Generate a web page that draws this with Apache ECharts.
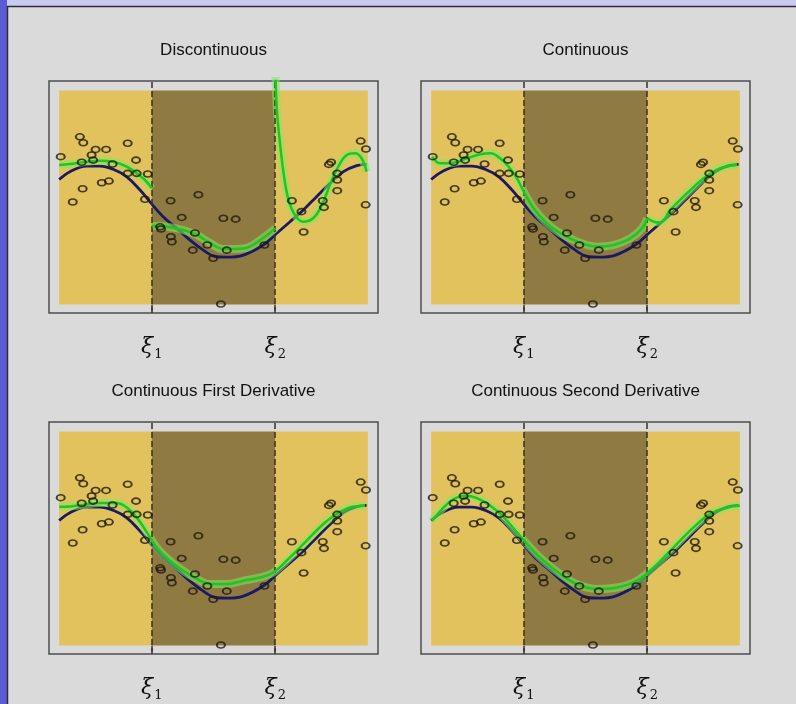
<!DOCTYPE html>
<html>
<head>
<meta charset="utf-8">
<title>Piecewise cubic polynomials</title>
<script src="https://cdn.jsdelivr.net/npm/echarts@6/dist/echarts.min.js"></script>
<style>
html, body { margin: 0; padding: 0; background: #dadada; }
#chart { width: 796px; height: 704px; }
</style>
</head>
<body>
<div id="chart"></div>
<script>
// knots and panel titles
var knots = [0.3, 0.7];
var panelTitles = ['Discontinuous', 'Continuous', 'Continuous First Derivative', 'Continuous Second Derivative'];

// observed points (same in all panels)
var points = [
  [0.005, 0.691], [0.067, 0.784], [0.078, 0.756], [0.044, 0.479], [0.076, 0.541], [0.073, 0.665],
  [0.105, 0.699], [0.110, 0.675], [0.118, 0.725], [0.152, 0.725], [0.138, 0.569], [0.161, 0.577],
  [0.173, 0.657], [0.222, 0.754], [0.249, 0.675], [0.222, 0.613], [0.251, 0.613], [0.287, 0.610],
  [0.278, 0.492], [0.361, 0.485], [0.451, 0.513], [0.327, 0.363], [0.330, 0.353], [0.397, 0.407],
  [0.362, 0.317], [0.365, 0.293], [0.433, 0.254], [0.440, 0.334], [0.480, 0.278], [0.499, 0.216],
  [0.532, 0.403], [0.572, 0.399], [0.543, 0.254], [0.524, 0.002], [0.665, 0.278], [0.754, 0.485],
  [0.785, 0.434], [0.792, 0.339], [0.854, 0.485], [0.858, 0.454], [0.874, 0.655], [0.881, 0.665],
  [0.901, 0.613], [0.901, 0.582], [0.901, 0.532], [0.977, 0.764], [0.994, 0.727], [0.993, 0.466]
];

// true function (blue)
var truth = [
  [0, 0.584], [0.035, 0.621], [0.089, 0.647], [0.132, 0.647], [0.175, 0.632], [0.219, 0.597],
  [0.262, 0.535], [0.294, 0.480], [0.337, 0.410], [0.381, 0.356], [0.424, 0.301], [0.467, 0.254],
  [0.510, 0.223], [0.543, 0.221], [0.597, 0.231], [0.661, 0.278], [0.705, 0.333], [0.748, 0.387],
  [0.791, 0.442], [0.834, 0.504], [0.877, 0.566], [0.921, 0.621], [0.964, 0.649], [0.996, 0.655]
];

// discontinuous fit, three pieces
var discA = [
  [0, 0.652], [0.035, 0.657], [0.078, 0.665], [0.132, 0.672], [0.175, 0.667], [0.219, 0.644],
  [0.251, 0.613], [0.278, 0.582], [0.3, 0.543]
];
var discB = [
  [0.3, 0.367], [0.327, 0.367], [0.359, 0.361], [0.402, 0.348], [0.446, 0.325], [0.489, 0.287],
  [0.532, 0.259], [0.597, 0.262], [0.651, 0.301], [0.7, 0.356]
];
var discC = [
  [0.7, 1.15], [0.705, 0.92], [0.715, 0.76], [0.728, 0.605], [0.742, 0.496], [0.764, 0.418],
  [0.791, 0.387], [0.823, 0.403], [0.851, 0.465], [0.877, 0.558], [0.904, 0.644], [0.932, 0.699],
  [0.959, 0.707], [0.980, 0.683], [0.996, 0.621]
];

// continuous fit (kink at second knot)
var contA = [
  [0.003, 0.691], [0.029, 0.660], [0.073, 0.663], [0.116, 0.683], [0.159, 0.702], [0.192, 0.707],
  [0.224, 0.683], [0.251, 0.644], [0.278, 0.590], [0.3, 0.527], [0.332, 0.449], [0.375, 0.379],
  [0.418, 0.333], [0.462, 0.301], [0.505, 0.278], [0.537, 0.270], [0.591, 0.278], [0.645, 0.309],
  [0.683, 0.356], [0.7, 0.403]
];
var contB = [
  [0.7, 0.403], [0.721, 0.387], [0.742, 0.383], [0.775, 0.442], [0.829, 0.520], [0.883, 0.590],
  [0.937, 0.637], [0.991, 0.652]
];

// continuous first derivative
var deriv1 = [
  [0, 0.649], [0.035, 0.650], [0.078, 0.657], [0.132, 0.666], [0.186, 0.666], [0.219, 0.645],
  [0.251, 0.599], [0.284, 0.529], [0.316, 0.458], [0.359, 0.396], [0.402, 0.349], [0.446, 0.311],
  [0.489, 0.287], [0.543, 0.287], [0.597, 0.303], [0.651, 0.318], [0.694, 0.341], [0.748, 0.412],
  [0.802, 0.490], [0.856, 0.568], [0.899, 0.615], [0.942, 0.645], [0.991, 0.653]
];

// continuous second derivative
var deriv2 = [
  [0.003, 0.583], [0.040, 0.645], [0.073, 0.685], [0.110, 0.700], [0.148, 0.689], [0.192, 0.653],
  [0.235, 0.599], [0.278, 0.529], [0.321, 0.458], [0.364, 0.396], [0.418, 0.334], [0.472, 0.287],
  [0.537, 0.264], [0.602, 0.271], [0.667, 0.303], [0.721, 0.365], [0.785, 0.458], [0.850, 0.552],
  [0.904, 0.615], [0.959, 0.645], [1.0, 0.653]
];

var fits = [[discA, discB, discC], [contA, contB], [deriv1], [deriv2]];

var chart = echarts.init(document.getElementById('chart'));

var boxes = [
  { left: 49, top: 81 }, { left: 421, top: 81 },
  { left: 49, top: 422 }, { left: 421, top: 422 }
];
var boxW = 329, boxH = 232;

var grids = [], xAxes = [], yAxes = [], series = [], graphics = [];

// frame round the panel
graphics.push({ type: 'rect', shape: { x: 0, y: 0, width: 796, height: 6 }, style: { fill: '#c9caf0' }, silent: true });
graphics.push({ type: 'rect', shape: { x: 0, y: 0, width: 7, height: 704 }, style: { fill: '#5b5bd6' }, silent: true });
graphics.push({ type: 'line', shape: { x1: 7.5, y1: 6, x2: 7.5, y2: 704 }, style: { stroke: '#2c2c3c', lineWidth: 1.5 }, silent: true });
graphics.push({ type: 'line', shape: { x1: 7, y1: 6.5, x2: 796, y2: 6.5 }, style: { stroke: '#2c2c3c', lineWidth: 1.5 }, silent: true });

boxes.forEach(function (b, i) {
  grids.push({
    left: b.left, top: b.top, width: boxW, height: boxH,
    show: true, borderColor: '#4d4d4d', borderWidth: 1.5, backgroundColor: 'transparent'
  });
  xAxes.push({
    gridIndex: i, type: 'value', min: -0.033, max: 1.033,
    splitLine: { show: false },
    axisLine: { show: false },
    axisTick: { show: true, customValues: knots, length: 6, lineStyle: { color: '#333', width: 1.5 } },
    axisLabel: {
      customValues: knots, margin: 23,
      formatter: function (v) { return Math.abs(v - 0.3) < 0.01 ? '{x|ξ}{s|1}' : '{x|ξ}{s|2}'; },
      rich: {
        x: { fontFamily: 'DejaVu Serif', fontStyle: 'italic', fontSize: 22, color: '#111', verticalAlign: 'bottom' },
        s: { fontFamily: 'DejaVu Serif', fontSize: 13, color: '#111', verticalAlign: 'bottom', padding: [0, 0, -3, 1] }
      }
    }
  });
  yAxes.push({ gridIndex: i, type: 'value', min: -0.04, max: 1.045, show: false });

  graphics.push({
    type: 'text', silent: true,
    style: {
      text: panelTitles[i], x: b.left + boxW / 2, y: b.top - 31,
      textAlign: 'center', textVerticalAlign: 'middle',
      font: '17px "Liberation Sans", Arial, sans-serif', fill: '#111'
    }
  });

  // shaded regions and knot lines
  series.push({
    type: 'line', xAxisIndex: i, yAxisIndex: i, data: [], z: 1, silent: true,
    markArea: {
      silent: true,
      data: [
        [{ coord: [0, 0], itemStyle: { color: '#e2c25c' } }, { coord: [knots[0], 1] }],
        [{ coord: [knots[0], 0], itemStyle: { color: '#8f7a42' } }, { coord: [knots[1], 1] }],
        [{ coord: [knots[1], 0], itemStyle: { color: '#e2c25c' } }, { coord: [1, 1] }]
      ]
    },
    markLine: {
      silent: true, symbol: ['none', 'none'], label: { show: false },
      lineStyle: { type: [6, 3], color: '#3a3222', width: 1.5 },
      data: [{ xAxis: knots[0] }, { xAxis: knots[1] }]
    }
  });

  // true curve
  series.push({
    type: 'line', xAxisIndex: i, yAxisIndex: i, data: truth, smooth: 0.4,
    showSymbol: false, z: 3, lineStyle: { color: '#1b1966', width: 2.8 }
  });

  // fitted pieces: glow then core
  fits[i].forEach(function (piece) {
    series.push({
      type: 'line', xAxisIndex: i, yAxisIndex: i, data: piece, smooth: 0.4,
      showSymbol: false, z: 4, lineStyle: { color: 'rgba(125,235,95,0.55)', width: 8 }
    });
    series.push({
      type: 'line', xAxisIndex: i, yAxisIndex: i, data: piece, smooth: 0.4,
      showSymbol: false, z: 5, lineStyle: { color: '#22c322', width: 2.5 }
    });
  });

  series.push({
    type: 'scatter', xAxisIndex: i, yAxisIndex: i, data: points, z: 6,
    symbol: 'circle', symbolSize: [8, 6],
    itemStyle: { color: 'rgba(0,0,0,0)', borderColor: '#1f1a10', borderWidth: 1.8 }
  });
});

chart.setOption({
  animation: false,
  backgroundColor: '#dadada',
  grid: grids,
  xAxis: xAxes,
  yAxis: yAxes,
  graphic: graphics,
  series: series
});
</script>
</body>
</html>
